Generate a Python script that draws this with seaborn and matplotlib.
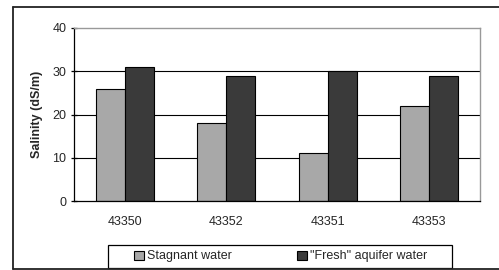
import matplotlib.pyplot as plt
import pandas as pd
import seaborn as sns
from matplotlib.lines import Line2D
from matplotlib.patches import Rectangle

# %% data
sites = ["43350", "43352", "43351", "43353"]
stagnant = [26, 18, 11, 22]
fresh = [31, 29, 30, 29]
series_names = ["Stagnant water", '"Fresh" aquifer water']

df = pd.DataFrame({
    "site": sites * 2,
    "salinity": stagnant + fresh,
    "type": [series_names[0]] * len(sites) + [series_names[1]] * len(sites),
})

# %% plot
sns.set_style("white")
plt.rcParams["font.family"] = ["Liberation Sans", "DejaVu Sans"]

W, H = 499, 270
fig = plt.figure(figsize=(W / 100, H / 100), dpi=100)
ax = fig.add_axes([74 / W, 1 - 201 / H, (480 - 74) / W, (201 - 28) / H])

sns.barplot(data=df, x="site", y="salinity", hue="type", order=sites,
            palette=["#a8a8a8", "#3a3a3a"], edgecolor="black", linewidth=0.8,
            width=0.57, saturation=1, ax=ax)

ax.set_ylim(0, 40)
ax.set_xlim(-0.5, len(sites) - 0.5)
ax.set_yticks([0, 10, 20, 30, 40])
ax.set_xlabel("")
ax.set_ylabel("")
fig.text(37 / W, 1 - 114 / H, "Salinity (dS/m)", rotation=90, fontsize=9,
         fontweight="bold", ha="center", va="center")
ax.tick_params(axis="x", which="major", labelsize=9, length=0, pad=11)
ax.tick_params(axis="y", labelsize=9, length=5, direction="inout", color="black",
               width=0.9, left=True, pad=3)

# gridlines
for y in [10, 20, 30]:
    ax.axhline(y, color="black", linewidth=0.8, zorder=0)

for side in ["top", "right"]:
    ax.spines[side].set_color("#999999")
    ax.spines[side].set_linewidth(1.0)
for side in ["left", "bottom"]:
    ax.spines[side].set_color("black")
    ax.spines[side].set_linewidth(0.9)

# category boundary ticks
ax.set_xticks([i + 0.5 for i in range(-1, len(sites))], minor=True)
ax.tick_params(axis="x", which="minor", length=3, direction="out", color="black", width=0.9)

# legend (frame drawn separately)
handles = ax.get_legend_handles_labels()[0]
leg = ax.legend(handles, series_names, loc="center", ncol=2,
                bbox_to_anchor=((281 - 74) / (480 - 74), -(256.5 - 201) / (201 - 28)),
                fontsize=9, frameon=False,
                handlelength=0.75, handleheight=0.75, handletextpad=0.3,
                columnspacing=5.2, borderpad=0, borderaxespad=0)
for h in leg.legend_handles:
    h.set_edgecolor("black")
    h.set_linewidth(0.8)
fig.add_artist(Rectangle((108 / W, 1 - 268 / H), (452 - 108) / W, (268 - 245) / H,
                         transform=fig.transFigure, fill=False, edgecolor="black",
                         linewidth=0.9))

# outer chart frame
fig.add_artist(Line2D([13 / W, 13 / W], [1 - 268.5 / H, 1 - 6.5 / H], color="#222222", linewidth=1.3))
fig.add_artist(Line2D([13 / W, 1], [1 - 6.5 / H, 1 - 6.5 / H], color="#222222", linewidth=1.3))
fig.add_artist(Line2D([13 / W, 1], [1 - 268.5 / H, 1 - 268.5 / H], color="#222222", linewidth=1.3))

plt.savefig("out.png", dpi=100)
